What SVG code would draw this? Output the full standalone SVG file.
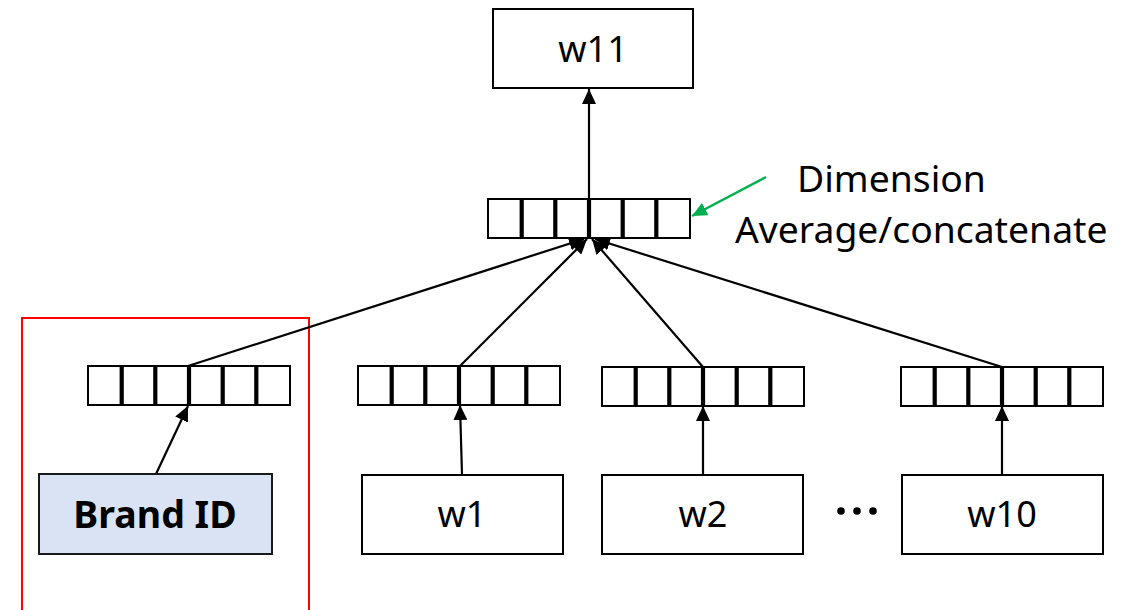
<svg xmlns="http://www.w3.org/2000/svg" xmlns:xlink="http://www.w3.org/1999/xlink" width="1130" height="610" viewBox="0 0 1130 610">
  <style>
    .box { fill: #ffffff; stroke: #000000; stroke-width: 2; }
    .brand { fill: #dae3f3; stroke: #1a1a1a; stroke-width: 2; }
    .label { font-family: "Noto Sans", "Open Sans", sans-serif; font-size: 36px; fill: #000000; text-anchor: middle; }
    .bold { font-weight: bold; font-size: 37.5px; }
    .note { font-family: "Noto Sans", "Open Sans", sans-serif; font-size: 37.3px; fill: #000000; }
    .link { stroke: #000000; stroke-width: 2.2; fill: none; marker-end: url(#head); }
    .hint { stroke: #00b050; stroke-width: 2.5; fill: none; marker-end: url(#head-green); }
    .cellrow { fill: #ffffff; stroke: #000000; stroke-width: 2; }
    .divider { stroke: #000000; stroke-width: 4.2; }
  </style>
  <defs>
    <marker id="head" markerUnits="userSpaceOnUse" markerWidth="16" markerHeight="14" refX="15" refY="7" orient="auto">
      <path d="M0,0 L15,7 L0,14 Z" fill="#000000"/>
    </marker>
    <marker id="head-green" markerUnits="userSpaceOnUse" markerWidth="16" markerHeight="14" refX="15" refY="7" orient="auto">
      <path d="M0,0 L15,7 L0,14 Z" fill="#00b050"/>
    </marker>
    <!-- six-cell embedding vector -->
    <g id="vector">
      <rect class="cellrow" x="0" y="0" width="202" height="39"/>
      <line class="divider" x1="33.7" y1="0" x2="33.7" y2="39"/>
      <line class="divider" x1="67.3" y1="0" x2="67.3" y2="39"/>
      <line class="divider" x1="101" y1="0" x2="101" y2="39"/>
      <line class="divider" x1="134.7" y1="0" x2="134.7" y2="39"/>
      <line class="divider" x1="168.3" y1="0" x2="168.3" y2="39"/>
    </g>
  </defs>

  <rect width="1130" height="610" fill="#ffffff"/>

  <!-- brand branch highlight -->
  <g id="brand-frame">
    <rect x="22" y="318" width="287" height="300" fill="none" stroke="#ff0000" stroke-width="2"/>
  </g>

  <g id="connectors">
    <line class="link" x1="589" y1="199" x2="589" y2="89"/>
    <line class="link" x1="188" y1="366" x2="584" y2="239"/>
    <line class="link" x1="460" y1="366" x2="587" y2="239"/>
    <line class="link" x1="703" y1="367" x2="592" y2="239"/>
    <line class="link" x1="1002" y1="367" x2="595" y2="239"/>
    <line class="link" x1="156" y1="474" x2="188" y2="406"/>
    <line class="link" x1="462" y1="475" x2="460" y2="405"/>
    <line class="link" x1="703" y1="475" x2="703" y2="406"/>
    <line class="link" x1="1002" y1="475" x2="1002" y2="406"/>
    <line class="hint" x1="766" y1="177" x2="692" y2="216"/>
  </g>

  <g id="w11">
    <rect class="box" x="493" y="9" width="200" height="79"/>
    <text class="label" x="593" y="62">w11</text>
  </g>

  <g id="vec-merged"><use xlink:href="#vector" href="#vector" x="488" y="199"/></g>
  <g id="vec-brand"><use xlink:href="#vector" href="#vector" x="88" y="366"/></g>
  <g id="vec-w1"><use xlink:href="#vector" href="#vector" x="358" y="366"/></g>
  <g id="vec-w2"><use xlink:href="#vector" href="#vector" x="602" y="367"/></g>
  <g id="vec-w10"><use xlink:href="#vector" href="#vector" x="901" y="367"/></g>

  <g id="brand-id">
    <rect class="brand" x="39" y="474" width="233" height="80"/>
    <text class="label bold" x="155" y="528">Brand ID</text>
  </g>

  <g id="w1">
    <rect class="box" x="362" y="475" width="201" height="79"/>
    <text class="label" x="462" y="527">w1</text>
  </g>

  <g id="w2">
    <rect class="box" x="602" y="475" width="201" height="79"/>
    <text class="label" x="703" y="527">w2</text>
  </g>

  <g id="ellipsis">
    <circle cx="841" cy="511" r="3.8" fill="#000000"/>
    <circle cx="857" cy="511" r="3.8" fill="#000000"/>
    <circle cx="873" cy="511" r="3.8" fill="#000000"/>
  </g>

  <g id="w10">
    <rect class="box" x="902" y="475" width="201" height="79"/>
    <text class="label" x="1002" y="527">w10</text>
  </g>

  <g id="note">
    <text class="note" x="797" y="192">Dimension</text>
    <text class="note" x="735" y="243">Average/concatenate</text>
  </g>
</svg>
